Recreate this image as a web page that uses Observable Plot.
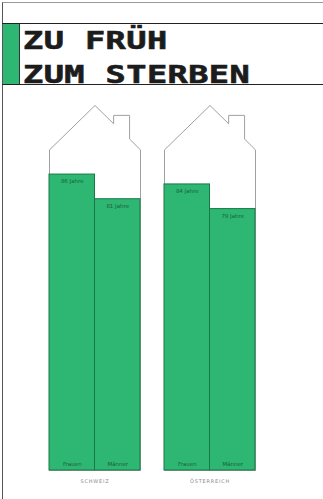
<!DOCTYPE html>
<html>
<head>
<meta charset="utf-8">
<script src="https://cdn.jsdelivr.net/npm/d3@7"></script>
<script src="https://cdn.jsdelivr.net/npm/@observablehq/plot@0.6"></script>
<style>
  html, body { margin: 0; padding: 0; background: #fff; }
  #page { position: relative; width: 323px; height: 499px; overflow: hidden; }
  #frame { position: absolute; left: 2px; top: 2px; right: 0; bottom: 0;
           border-left: 1px solid #555; border-top: 1px solid #999; }
  #head { position: absolute; left: 2px; top: 23px; right: 0; height: 60px;
          border-top: 1px solid #222; border-bottom: 1px solid #222; }
  #bar { position: absolute; left: 1px; top: 0; width: 16px; height: 60px;
         background: #2eb673; border-right: 1px solid #333; }
  .t { position: absolute; left: 21px; font-family: "DejaVu Sans Mono", monospace;
       font-weight: bold; font-size: 24px; line-height: 34px; color: #1c1c1c;
       letter-spacing: 0.3px; transform: scaleX(1.4); transform-origin: left top;
       -webkit-text-stroke: 0.6px #1c1c1c; white-space: nowrap; }
  #chart { position: absolute; left: 0; top: 85px; }
</style>
</head>
<body>
<div id="page">
  <div id="frame"></div>
  <div id="head">
    <div id="bar"></div>
    <div class="t" style="top:0px">ZU FRÜH</div>
    <div class="t" style="top:34px">ZUM STERBEN</div>
  </div>
  <div id="chart"></div>
</div>
<script>
// Data
const countries = ["SCHWEIZ", "ÖSTERREICH"];
const sexes = ["Frauen", "Männer"];
const schweizValues = [86, 81];
const oesterreichValues = [84, 79];
const yBase = 26;   // bottom of the house (years)
const yTop = 100;   // roof apex (years)

// House outline in house units (x: 0..2 across the two bars, y: years)
const houseX = [0, 0, 1, 1.41, 1.41, 1.76, 1.76, 2, 2, 0];
const houseY = [26, 91, 100, 96.3, 98, 98, 93.2, 91, 26, 26];

const valuesByCountry = [schweizValues, oesterreichValues];
const data = [];
countries.forEach((c, ci) => {
  sexes.forEach((s, si) => {
    data.push({country: c, sex: s, i: si, value: valuesByCountry[ci][si]});
  });
});
const house = houseX.map((x, k) => ({x, y: houseY[k]}));

const green = "#2eb673";

const plot = Plot.plot({
  width: 323,
  height: 414,
  marginLeft: 49,
  marginRight: 68,
  marginTop: 20,
  marginBottom: 29,
  style: {fontFamily: "DejaVu Sans, sans-serif", fontSize: "5px", color: "#8a8a8a", background: "transparent"},
  fx: {domain: countries, axis: "bottom", label: null, tickSize: 0, tickPadding: 9,
       paddingInner: 0.2087, paddingOuter: 0},
  x: {domain: [0, 2], axis: null},
  y: {domain: [yBase, yTop], axis: null},
  marks: [
    Plot.line(house, {x: "x", y: "y", stroke: "#a0a0a0", strokeWidth: 1}),
    Plot.rect(data, {fx: "country", x1: d => d.i, x2: d => d.i + 1, y1: yBase, y2: "value",
                     fill: green, stroke: "#187a47", strokeWidth: 1}),
    Plot.text(data, {fx: "country", x: d => d.i + 0.5, y: "value", text: d => `${d.value} Jahre`,
                     dy: 7, fontSize: 5.5, fill: "#1d5e3a", letterSpacing: 0.5}),
    Plot.text(data, {fx: "country", x: d => d.i + 0.5, y: yBase, text: "sex",
                     dy: -6, fontSize: 5.5, fill: "#1d5e3a"})
  ]
});
plot.querySelectorAll("g[aria-label='fx-axis'] text, g[aria-label='fx-axis tick label'] text").forEach(t => t.setAttribute("letter-spacing", "0.8"));
document.getElementById("chart").appendChild(plot);
</script>
</body>
</html>
